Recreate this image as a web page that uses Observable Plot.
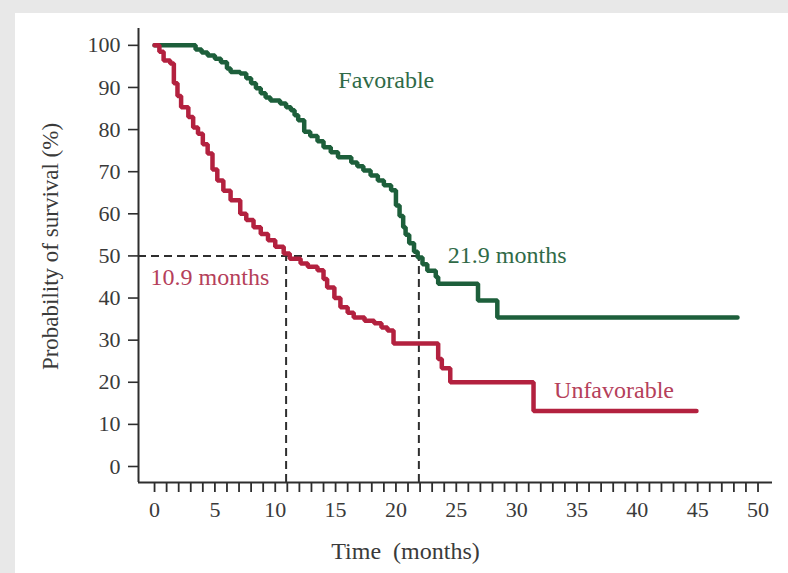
<!DOCTYPE html>
<html>
<head>
<meta charset="utf-8">
<script src="https://cdn.jsdelivr.net/npm/d3@7"></script>
<script src="https://cdn.jsdelivr.net/npm/@observablehq/plot@0.6"></script>
<style>
  html, body { margin: 0; padding: 0; }
  body { width: 788px; height: 573px; overflow: hidden; background: #e8e8e8; position: relative; }
  #chart { position: absolute; left: 15px; top: 13px; width: 773px; height: 560px; background: #ffffff; }
  #chart svg { display: block; }
</style>
</head>
<body>
<div id="chart"></div>
<script>
// ---- Data ----
const favTime = [0, 3.4, 3.9, 4.4, 5.0, 5.5, 6.0, 6.3, 7.1, 7.6, 8.0, 8.4, 8.8, 9.2, 9.6, 10.4, 10.9, 11.3, 11.6, 11.9, 12.4, 12.9, 13.5, 14.0, 14.6, 15.2, 16.3, 16.8, 17.3, 17.9, 18.5, 19.0, 19.6, 20.0, 20.3, 20.6, 20.8, 21.1, 21.5, 21.8, 22.2, 22.6, 23.3, 23.5, 26.8, 28.4, 48.3];
const favSurv = [100, 99, 98.3, 97.6, 96.8, 96, 94.5, 93.7, 93.3, 92.2, 91, 89.8, 88.6, 87.6, 86.9, 86.2, 85.3, 84.6, 83.4, 82.2, 79.5, 78.5, 77.2, 75.8, 74.6, 73.4, 72.2, 71.3, 70.3, 69.1, 67.9, 66.8, 65.6, 62, 59.5, 56.8, 55, 53, 51, 49.6, 48, 46.5, 45, 43.4, 39.4, 35.4, 35.4];

const unfTime = [0, 0.4, 0.75, 1.3, 1.6, 1.9, 2.2, 2.8, 3.2, 3.6, 4.0, 4.4, 4.8, 5.2, 5.7, 6.3, 7.1, 7.6, 8.2, 8.8, 9.4, 10.0, 10.7, 11.2, 12.1, 12.7, 13.5, 14.0, 14.3, 14.9, 15.4, 16.0, 16.5, 17.4, 18.2, 18.8, 19.3, 19.8, 23.5, 23.8, 24.5, 31.4, 44.9];
const unfSurv = [100, 98.5, 96.4, 95.7, 91, 88, 85.3, 83, 80.5, 79, 76.5, 74.3, 70.5, 67.9, 65.5, 63.2, 60, 58.5, 56.8, 55.2, 53.7, 52.2, 50.6, 49.3, 48.2, 47.4, 46.6, 44.5, 42.5, 40, 37.8, 36.5, 35.4, 34.6, 34, 33, 32.3, 29.2, 25.5, 23.3, 20, 13.2, 13.2];

const medianLevel = 50;
const medianTimes = [10.9, 21.9];
const medianLabels = ["10.9 months", "21.9 months"];

const xTicks = d3.range(0, 51, 1);
const yTicks = d3.range(0, 101, 10);
const xDomain = [-1.33, 51.2];
const yDomain = [-3.8, 104];

const groupNames = ["Favorable", "Unfavorable"];

// ---- Build tables ----
const fav = favTime.map((t, i) => ({t, s: favSurv[i]}));
const unf = unfTime.map((t, i) => ({t, s: unfSurv[i]}));

const green = "#1d5f3b";
const red = "#b3213f";
const axisColor = "#2e2e2e";
const font = "'Liberation Serif', 'DejaVu Serif', serif";

const chart = Plot.plot({
  width: 773,
  height: 560,
  marginLeft: 123,
  marginRight: 16,
  marginTop: 15,
  marginBottom: 91,
  style: {fontFamily: font, background: "transparent", overflow: "visible"},
  x: {domain: xDomain},
  y: {domain: yDomain},
  marks: [
    // axis lines
    Plot.ruleX([xDomain[0]], {y1: yDomain[0], y2: yDomain[1], stroke: axisColor, strokeWidth: 2}),
    Plot.ruleY([yDomain[0]], {x1: xDomain[0], x2: xDomain[1], stroke: axisColor, strokeWidth: 2}),
    Plot.axisY({
      ticks: yTicks, tickSize: 10, tickPadding: 8, tickFormat: d => String(d),
      fontSize: 22, fill: "#3a3a3a", stroke: axisColor, strokeWidth: 1.6, label: null
    }),
    Plot.axisX({
      ticks: xTicks, tickSize: 10, tickPadding: 9,
      tickFormat: d => (d % 5 === 0 ? String(d) : ""),
      fontSize: 22, fill: "#3a3a3a", stroke: axisColor, strokeWidth: 1.8, label: null
    }),
    // median dashed reference lines
    Plot.ruleY([medianLevel], {x1: xDomain[0], x2: medianTimes[1], stroke: axisColor, strokeWidth: 2, strokeDasharray: "8,5"}),
    Plot.ruleX(medianTimes, {y1: yDomain[0], y2: medianLevel, stroke: axisColor, strokeWidth: 2, strokeDasharray: "8,5"}),
    // survival curves
    Plot.line(fav, {x: "t", y: "s", curve: "step-after", stroke: green, strokeWidth: 4.5, strokeLinejoin: "miter"}),
    Plot.line(unf, {x: "t", y: "s", curve: "step-after", stroke: red, strokeWidth: 4.5, strokeLinejoin: "miter"}),
    // annotations
    Plot.text([groupNames[0]], {x: 19.2, y: 91.7, text: d => d, fill: "#2f6a47", fontSize: 24, textAnchor: "middle"}),
    Plot.text([groupNames[1]], {x: 33.1, y: 18, text: d => d, fill: "#b5405a", fontSize: 24, textAnchor: "start"}),
    Plot.text([medianLabels[1]], {x: 24.3, y: 50.1, text: d => d, fill: "#2f6a47", fontSize: 24, textAnchor: "start"}),
    Plot.text([medianLabels[0]], {x: -0.33, y: 44.9, text: d => d, fill: "#b5405a", fontSize: 24, textAnchor: "start"}),
    // axis titles
    Plot.text(["Time\u2002(months)"], {frameAnchor: "bottom", dx: -50, dy: 76, text: d => d, fill: "#3a3a3a", fontSize: 24, textAnchor: "middle"}),
    Plot.text(["Probability of survival (%)"], {frameAnchor: "left", dx: -88, dy: -9, rotate: -90, text: d => d, fill: "#3a3a3a", fontSize: 23, textAnchor: "middle"})
  ]
});

document.getElementById("chart").appendChild(chart);
</script>
</body>
</html>
